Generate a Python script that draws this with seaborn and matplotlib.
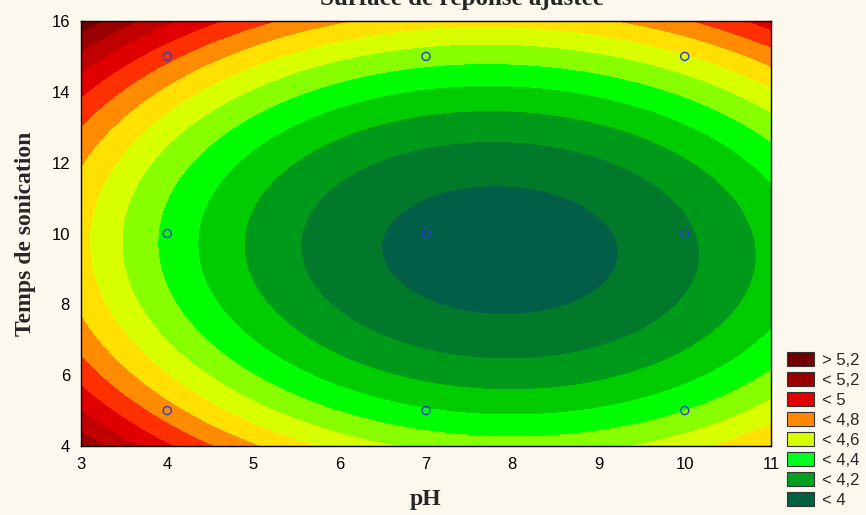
import numpy as np
import pandas as pd
import seaborn as sns
import matplotlib
matplotlib.use("Agg")
import matplotlib.pyplot as plt
from matplotlib.patches import Patch

ph_points = [4, 4, 4, 7, 7, 7, 10, 10, 10]
time_points = [5, 10, 15, 5, 10, 15, 5, 10, 15]
response = [4.74, 4.38, 4.83, 4.31, 3.97, 4.45, 4.40, 4.08, 4.59]

# contour bands
band_levels = [3.9, 4.0, 4.1, 4.2, 4.3, 4.4, 4.5, 4.6, 4.7, 4.8, 4.9, 5.0, 5.1, 5.2, 5.6]
band_colors = ["#005f46", "#007a2a", "#009a1a", "#00cc00", "#00ff00", "#88ff00",
               "#d8ff00", "#ffe000", "#ff8c00", "#ff3000", "#e00000", "#c00000",
               "#9a0000", "#700000"]

legend_labels = ["> 5,2", "< 5,2", "< 5", "< 4,8", "< 4,6", "< 4,4", "< 4,2", "< 4"]
legend_colors = ["#700000", "#9a0000", "#e00000", "#ff8800", "#d8ff00", "#00ff22",
                 "#00a020", "#006040"]

x_ticks = [3, 4, 5, 6, 7, 8, 9, 10, 11]
y_ticks = [4, 6, 8, 10, 12, 14, 16]

# ---- fit full quadratic response surface
df = pd.DataFrame({"pH": ph_points, "t": time_points, "z": response})
X = np.column_stack([np.ones(len(df)), df.pH, df.t, df.pH**2, df.t**2, df.pH*df.t])
coef, *_ = np.linalg.lstsq(X, df.z.values, rcond=None)

gx = np.linspace(3, 11, 300)
gy = np.linspace(4, 16, 300)
GX, GY = np.meshgrid(gx, gy)
GZ = (coef[0] + coef[1]*GX + coef[2]*GY + coef[3]*GX**2 + coef[4]*GY**2
      + coef[5]*GX*GY)

sns.set_style("ticks")
bg = "#fdf8ee"
plt.rcParams["font.family"] = ["Liberation Sans", "DejaVu Sans"]

fig = plt.figure(figsize=(8.66, 5.15), dpi=100, facecolor=bg)
ax = fig.add_axes([81/866, 1-446/515, (771-81)/866, (446-21)/515])
ax.set_facecolor(bg)

ax.contourf(GX, GY, GZ, levels=band_levels, colors=band_colors, extend="both")

sns.scatterplot(data=df, x="pH", y="t", ax=ax, marker="o", s=34,
                facecolors="none", edgecolor="#2a3fd0", linewidth=1.0,
                legend=False, zorder=5)

ax.set_xlim(3, 11)
ax.set_ylim(4, 16)
ax.set_xticks(x_ticks)
ax.set_yticks(y_ticks)
ax.tick_params(direction="in", length=3, width=0.8, top=True, right=True,
               labelsize=12, colors="black", pad=8)
for s in ax.spines.values():
    s.set_color("black")
    s.set_linewidth(1.0)

serif = ["Liberation Serif", "DejaVu Serif"]
ax.set_xlabel("pH", family=serif, fontweight="bold", fontsize=17, labelpad=12)
ax.set_ylabel("Temps de sonication", family=serif, fontweight="bold",
              fontsize=17, labelpad=11)

fig.text(462/866, 1 - 5/515, "Surface de réponse ajustée",
         family=serif, fontweight="bold", fontsize=18, ha="center", va="baseline")

handles = [Patch(facecolor=c, edgecolor="#333333", linewidth=0.8)
           for c in legend_colors]
fig.legend(handles, legend_labels, loc="lower left",
           bbox_to_anchor=(787/866, 7/515), frameon=False, fontsize=12,
           handlelength=1.62, handleheight=0.9, handletextpad=0.5,
           labelspacing=0.26, borderaxespad=0, borderpad=0)

fig.savefig("out.png", dpi=100, facecolor=bg)
